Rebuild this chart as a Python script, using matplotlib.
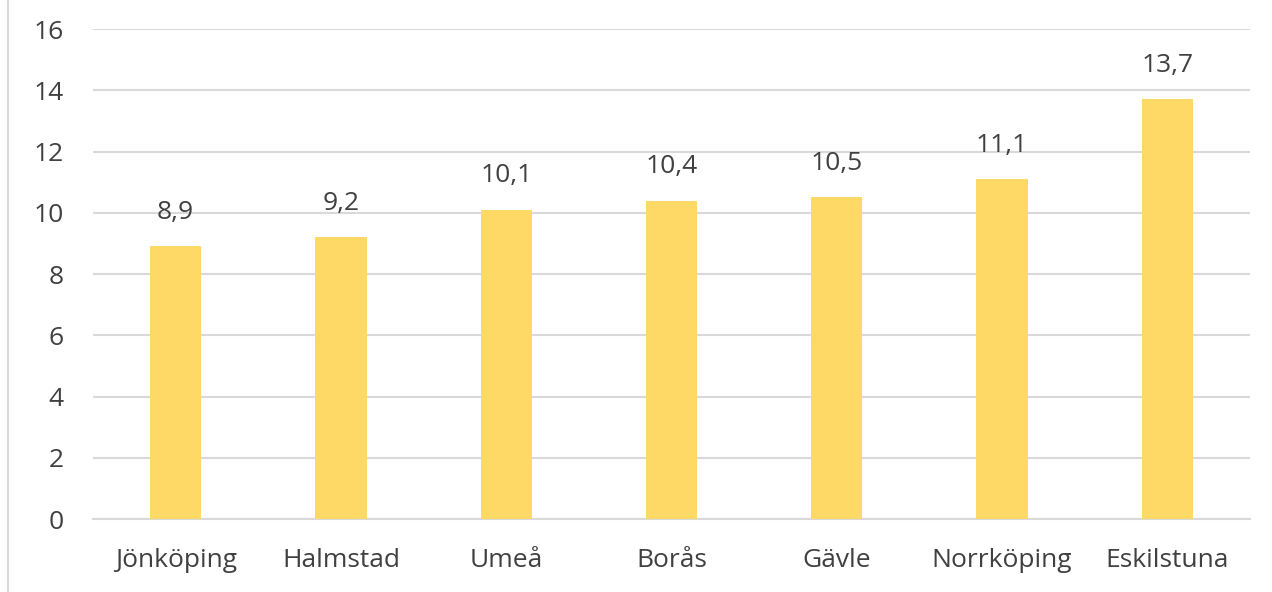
import matplotlib

matplotlib.use("Agg")
from matplotlib import pyplot as plt
from matplotlib.lines import Line2D

cities = ["Jönköping", "Halmstad", "Umeå", "Borås", "Gävle", "Norrköping", "Eskilstuna"]
values = [8.9, 9.2, 10.1, 10.4, 10.5, 11.1, 13.7]
yticks = [0, 2, 4, 6, 8, 10, 12, 14, 16]

BAR_COLOR = "#FFD966"
TEXT_COLOR = "#404040"
GRID_COLOR = "#D9D9D9"

plt.rcParams["font.family"] = ["Open Sans", "DejaVu Sans"]

fig = plt.figure(figsize=(12.72, 5.92), dpi=100)
ax = fig.add_axes([0.0731, 0.1233, 0.9096, 0.8277])

x = list(range(len(cities)))
bars = ax.bar(x, values, width=0.31, color=BAR_COLOR, zorder=3)

for xi, v in zip(x, values):
    ax.text(xi, v + 0.7, f"{v:.1f}".replace(".", ","), ha="center", va="bottom",
            fontsize=19, color=TEXT_COLOR)

ax.set_xlim(-0.5, len(cities) - 0.5)
ax.set_ylim(0, 16)
ax.set_yticks(yticks)
ax.set_yticklabels([str(t) for t in yticks])
ax.set_xticks(x)
ax.set_xticklabels(cities)
ax.tick_params(axis="both", length=0, labelsize=19, labelcolor=TEXT_COLOR)
ax.tick_params(axis="y", pad=21)
ax.tick_params(axis="x", pad=21)
ax.grid(axis="y", color=GRID_COLOR, linewidth=1.5, zorder=0)
for side in ("top", "right", "left"):
    ax.spines[side].set_visible(False)
ax.spines["bottom"].set_color(GRID_COLOR)
ax.spines["bottom"].set_linewidth(1.5)

# thin frame line at the left edge of the picture
fig.add_artist(Line2D([0.0065, 0.0065], [0, 1], transform=fig.transFigure,
                      color=GRID_COLOR, linewidth=1.5))

fig.savefig("out.png", dpi=100)
